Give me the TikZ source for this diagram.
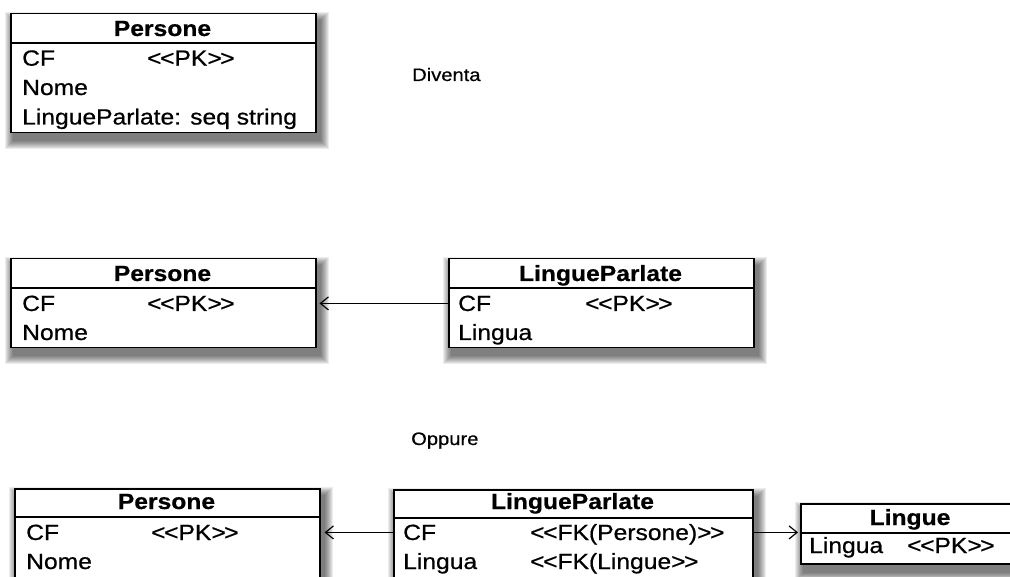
\documentclass[tikz,border=0pt]{standalone}
\usepackage{fontspec}
\setmainfont{Liberation Sans}[FakeStretch=1.12, FakeBold=0.6]
\usetikzlibrary{arrows.meta,backgrounds}
\tikzset{
 classbox/.style={draw=black, line width=1.5pt, fill=white, inner sep=0pt, anchor=north west},
 hdr/.style={font=\fontsize{22}{24}\selectfont\bfseries, inner sep=0pt, anchor=base},
 attr/.style={font=\fontsize{22}{24}\selectfont, inner sep=0pt, anchor=base west},
 note/.style={font=\fontsize{18}{20}\selectfont, inner sep=0pt, anchor=base west},
 divider/.style={line width=1.5pt},
 rel/.style={line width=1.2pt, -{Straight Barb[length=8pt,width=13pt,line width=1.2pt]}},
}
\newcommand\lt{<\kern-1.5pt<}
\newcommand\gt{>\kern-1.5pt>}
\newcommand\boxshadow[1]{%
  \foreach \k in {1,...,9}{%
    \fill[black,opacity=0.075] ([xshift={(4-\k)*1pt}, yshift={(-7-\k)*1pt}]#1.south west)
      rectangle ([xshift={(3+\k)*1pt}, yshift={(-8+\k)*1pt}]#1.north east);
  }}
\begin{document}
\begin{tikzpicture}[x=1pt,y=-1pt]
\useasboundingbox (0,0) rectangle (1010,577);
\clip (0,0) rectangle (1010,577);
% --- top Persone
\node[classbox, minimum width=305pt, minimum height=119pt] (p1) at (10,13) {};
\draw[divider] ([yshift=-30pt]p1.north west) -- ([yshift=-30pt]p1.north east);
\node[hdr] (p1h) at (162.5,36) {Persone};
\node[attr] (p1cf) at (22,65.7) {CF};
\node[attr] (p1pk) at (147,65.7) {\lt PK\gt};
\node[attr] (p1nome) at (22,95) {Nome};
\node[attr] (p1lp) at (22,124.5) {LingueParlate: seq string};
\node[note] (diventa) at (412,81) {Diventa};
% --- middle Persone
\node[classbox, minimum width=305pt, minimum height=89pt] (p2) at (10,258) {};
\draw[divider] ([yshift=-30pt]p2.north west) -- ([yshift=-30pt]p2.north east);
\node[hdr] (p2h) at (162.5,281) {Persone};
\node[attr] (p2cf) at (22,311) {CF};
\node[attr] (p2pk) at (147,311) {\lt PK\gt};
\node[attr] (p2nome) at (22,340) {Nome};
% --- middle LingueParlate
\node[classbox, minimum width=305pt, minimum height=89pt] (lp2) at (448,258) {};
\draw[divider] ([yshift=-30pt]lp2.north west) -- ([yshift=-30pt]lp2.north east);
\node[hdr] (lp2h) at (600.5,281) {LingueParlate};
\node[attr] (lp2cf) at (458,311) {CF};
\node[attr] (lp2pk) at (585,311) {\lt PK\gt};
\node[attr] (lp2l) at (458,340) {Lingua};
\draw[rel] (lp2.west |- lp2cf.center) -- ([xshift=3pt]p2.east |- lp2cf.center);
\node[note] (oppure) at (411,445) {Oppure};
% --- bottom Persone
\node[classbox, minimum width=305pt, minimum height=120pt] (p3) at (14,488) {};
\draw[divider] ([yshift=-29pt]p3.north west) -- ([yshift=-29pt]p3.north east);
\node[hdr] (p3h) at (166.5,509) {Persone};
\node[attr] (p3cf) at (26,540) {CF};
\node[attr] (p3pk) at (151,540) {\lt PK\gt};
\node[attr] (p3nome) at (26,569) {Nome};
% --- bottom LingueParlate
\node[classbox, minimum width=359pt, minimum height=120pt] (lp3) at (393,489) {};
\draw[divider] ([yshift=-29pt]lp3.north west) -- ([yshift=-29pt]lp3.north east);
\node[hdr] (lp3h) at (572.5,509) {LingueParlate};
\node[attr] (lp3cf) at (403,540) {CF};
\node[attr] (lp3fk1) at (530,540) {\lt FK(Persone)\gt};
\node[attr] (lp3l) at (403,569) {Lingua};
\node[attr] (lp3fk2) at (530,569) {\lt FK(Lingue\gt};
% --- Lingue
\node[classbox, minimum width=220pt, minimum height=60pt] (lg) at (800,503) {};
\draw[divider] ([yshift=-30pt]lg.north west) -- ([yshift=-30pt]lg.north east);
\node[hdr] (lgh) at (910,525) {Lingue};
\node[attr] (lgl) at (809,553) {Lingua};
\node[attr] (lgpk) at (907,553) {\lt PK\gt};
\draw[rel] (lp3.west |- lp3cf.center) -- ([xshift=4pt]p3.east |- lp3cf.center);
\draw[rel] (lp3.east |- lp3cf.center) -- ([xshift=-2pt]lg.west |- lp3cf.center);
% --- shadows
\begin{scope}[on background layer]
\boxshadow{p1}\boxshadow{p2}\boxshadow{lp2}\boxshadow{p3}\boxshadow{lp3}\boxshadow{lg}
\end{scope}
\end{tikzpicture}
\end{document}
